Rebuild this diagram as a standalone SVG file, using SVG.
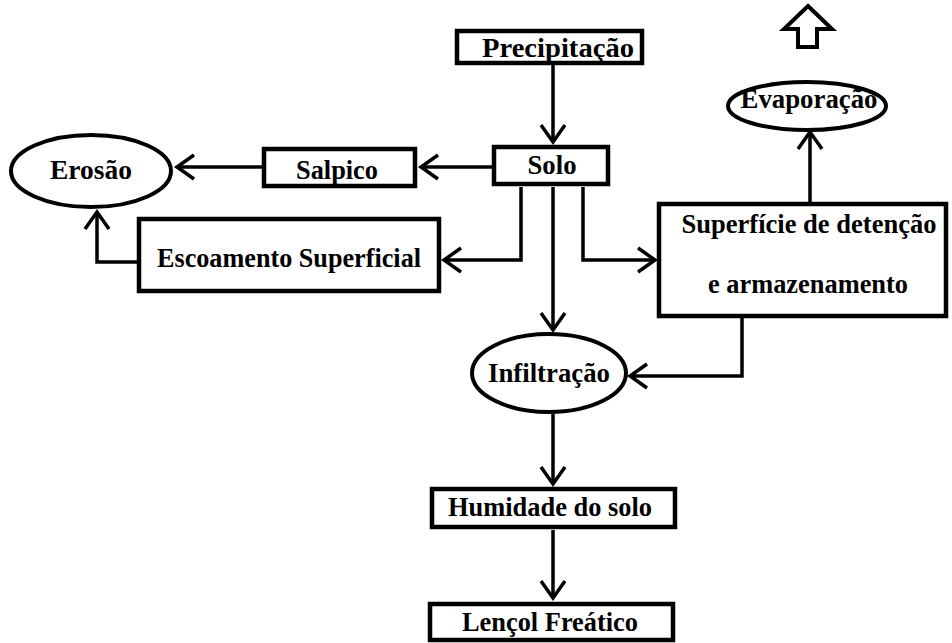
<svg xmlns="http://www.w3.org/2000/svg" width="952" height="643" viewBox="0 0 952 643">
<style>
.box{fill:#fff;stroke:#000;stroke-width:4.5}
.ell{fill:#fff;stroke:#000;stroke-width:4}
.t{font-family:"Liberation Serif","Times New Roman",serif;font-weight:bold;font-size:26.5px;fill:#000;text-anchor:middle}
.c{fill:none;stroke:#000;stroke-width:3.5}
</style>
<defs>
<marker id="ah" markerUnits="userSpaceOnUse" markerWidth="30" markerHeight="30" refX="18" refY="13" orient="auto" overflow="visible">
<path d="M1,1 L18,13 L1,25" fill="none" stroke="#000" stroke-width="3.5"/>
</marker>
</defs>
<rect width="952" height="643" fill="#fff"/>
<g id="connectors">
<path class="c" d="M553,65 V142" marker-end="url(#ah)"/>
<path class="c" d="M492,167 H421" marker-end="url(#ah)"/>
<path class="c" d="M262,167 H177" marker-end="url(#ah)"/>
<path class="c" d="M137,262 H97 V212" marker-end="url(#ah)"/>
<path class="c" d="M521,187 V260 H444" marker-end="url(#ah)"/>
<path class="c" d="M553,187 V330" marker-end="url(#ah)"/>
<path class="c" d="M583,187 V260 H655" marker-end="url(#ah)"/>
<path class="c" d="M810,202 V132" marker-end="url(#ah)"/>
<path class="c" d="M742,318 V376 H630" marker-end="url(#ah)"/>
<path class="c" d="M553,414 V484" marker-end="url(#ah)"/>
<path class="c" d="M553,530 V598" marker-end="url(#ah)"/>
<polygon points="808,6 832,29 817,29 817,47 798,47 798,29 784,29" fill="#fff" stroke="#000" stroke-width="4"/>
</g>
<g id="precipitacao"><rect class="box" x="457" y="31" width="185" height="32"/><text class="t" x="558" y="57" textLength="152" lengthAdjust="spacingAndGlyphs">Precipitação</text></g>
<g id="solo"><rect class="box" x="494" y="147" width="114" height="37"/><text class="t" x="552" y="174" textLength="49" lengthAdjust="spacingAndGlyphs">Solo</text></g>
<g id="salpico"><rect class="box" x="264" y="149" width="151" height="37"/><text class="t" x="337" y="179" textLength="82" lengthAdjust="spacingAndGlyphs">Salpico</text></g>
<g id="erosao"><ellipse class="ell" cx="91" cy="171" rx="80" ry="36"/><text class="t" x="91" y="179" textLength="82" lengthAdjust="spacingAndGlyphs">Erosão</text></g>
<g id="escoamento"><rect class="box" x="139" y="219" width="300" height="72"/><text class="t" x="289" y="267" textLength="264" lengthAdjust="spacingAndGlyphs">Escoamento Superficial</text></g>
<g id="superficie"><rect class="box" x="659" y="204" width="287" height="112"/><text class="t" x="809" y="233" textLength="255" lengthAdjust="spacingAndGlyphs">Superfície de detenção</text><text class="t" x="808" y="293" textLength="200" lengthAdjust="spacingAndGlyphs">e armazenamento</text></g>
<g id="evaporacao"><ellipse class="ell" cx="807" cy="106" rx="79" ry="24"/><text class="t" x="809" y="108" textLength="137" lengthAdjust="spacingAndGlyphs">Evaporação</text></g>
<g id="infiltracao"><ellipse class="ell" cx="549" cy="373" rx="77" ry="39"/><text class="t" x="549" y="382" textLength="122" lengthAdjust="spacingAndGlyphs">Infiltração</text></g>
<g id="humidade"><rect class="box" x="432" y="489" width="243" height="38"/><text class="t" x="550" y="516" textLength="204" lengthAdjust="spacingAndGlyphs">Humidade do solo</text></g>
<g id="lencol"><rect class="box" x="430" y="604" width="243" height="36"/><text class="t" x="550" y="631" textLength="176" lengthAdjust="spacingAndGlyphs">Lençol Freático</text></g>
</svg>
